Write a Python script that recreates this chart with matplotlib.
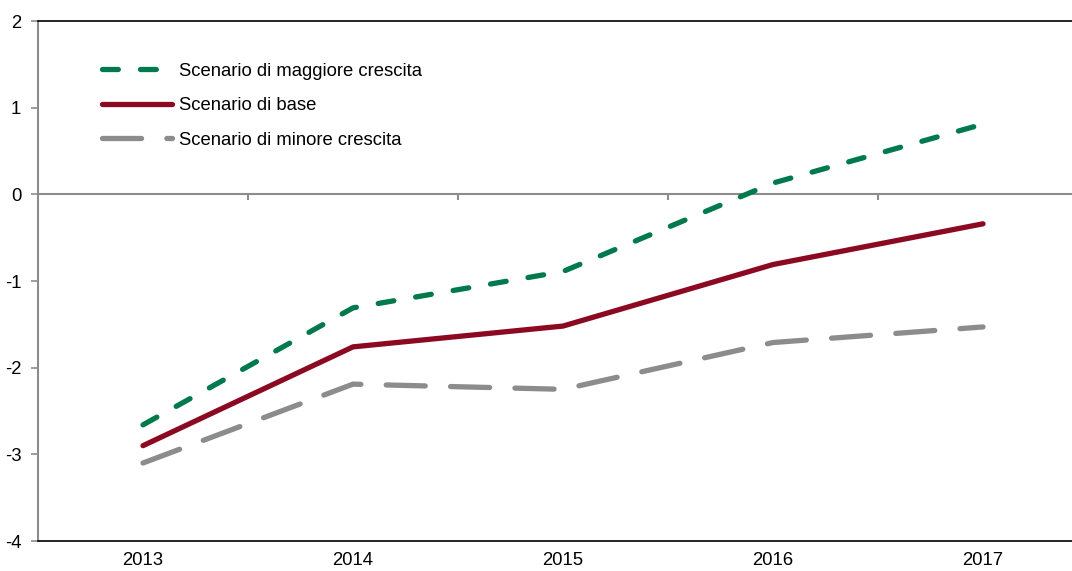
import matplotlib.pyplot as plt

plt.rcParams['font.family'] = ['Liberation Sans', 'DejaVu Sans']

anni = ['2013', '2014', '2015', '2016', '2017']
maggiore = [-2.66, -1.31, -0.89, 0.13, 0.81]
base = [-2.90, -1.76, -1.52, -0.81, -0.34]
minore = [-3.10, -2.19, -2.25, -1.71, -1.53]

verde = '#007a4d'
rosso = '#8b0a22'
grigio = '#8c8c8c'

fig = plt.figure(figsize=(10.72, 5.71), dpi=100)
# asse che sborda a destra come nell'originale
ax = fig.add_axes([38 / 1072, 30 / 571, 1050 / 1072, 520 / 571])

x = list(range(len(anni)))
lw = 3.8
ax.plot(x, maggiore, color=verde, lw=lw, dashes=(3, 4.2), dash_capstyle='round',
        label='Scenario di maggiore crescita')
ax.plot(x, base, color=rosso, lw=lw, solid_capstyle='round', label='Scenario di base')
ax.plot(x, minore, color=grigio, lw=lw, dashes=(7.4, 4.8), dash_capstyle='round',
        label='Scenario di minore crescita')

ax.set_xlim(-0.5, 4.5)
ax.set_ylim(-4, 2)

# linea dello zero con tacche tra le categorie
ax.axhline(0, color=grigio, lw=1.5, zorder=1)
ax.vlines([0.5, 1.5, 2.5, 3.5], -0.06, 0, color=grigio, lw=1.5, zorder=1)

fs = 13.3
ax.set_xticks(x)
ax.set_xticklabels(anni, fontsize=fs)
ax.tick_params(axis='x', length=0, pad=8)
ax.set_yticks(range(-4, 3))
ax.set_yticklabels([str(v) for v in range(-4, 3)], fontsize=fs)
ax.tick_params(axis='y', length=5, width=1.2, color=grigio, pad=7)

ax.spines['right'].set_visible(False)
ax.spines['left'].set_color(grigio)
ax.spines['left'].set_linewidth(1.5)
ax.spines['top'].set_color('black')
ax.spines['bottom'].set_color('black')
ax.spines['top'].set_linewidth(1.2)
ax.spines['bottom'].set_linewidth(1.2)

ax.legend(loc='upper left', bbox_to_anchor=(0.045, 0.952), frameon=False, fontsize=fs,
          handlelength=3.8, handletextpad=0.4, labelspacing=0.95)

fig.savefig('out.png', dpi=100)
